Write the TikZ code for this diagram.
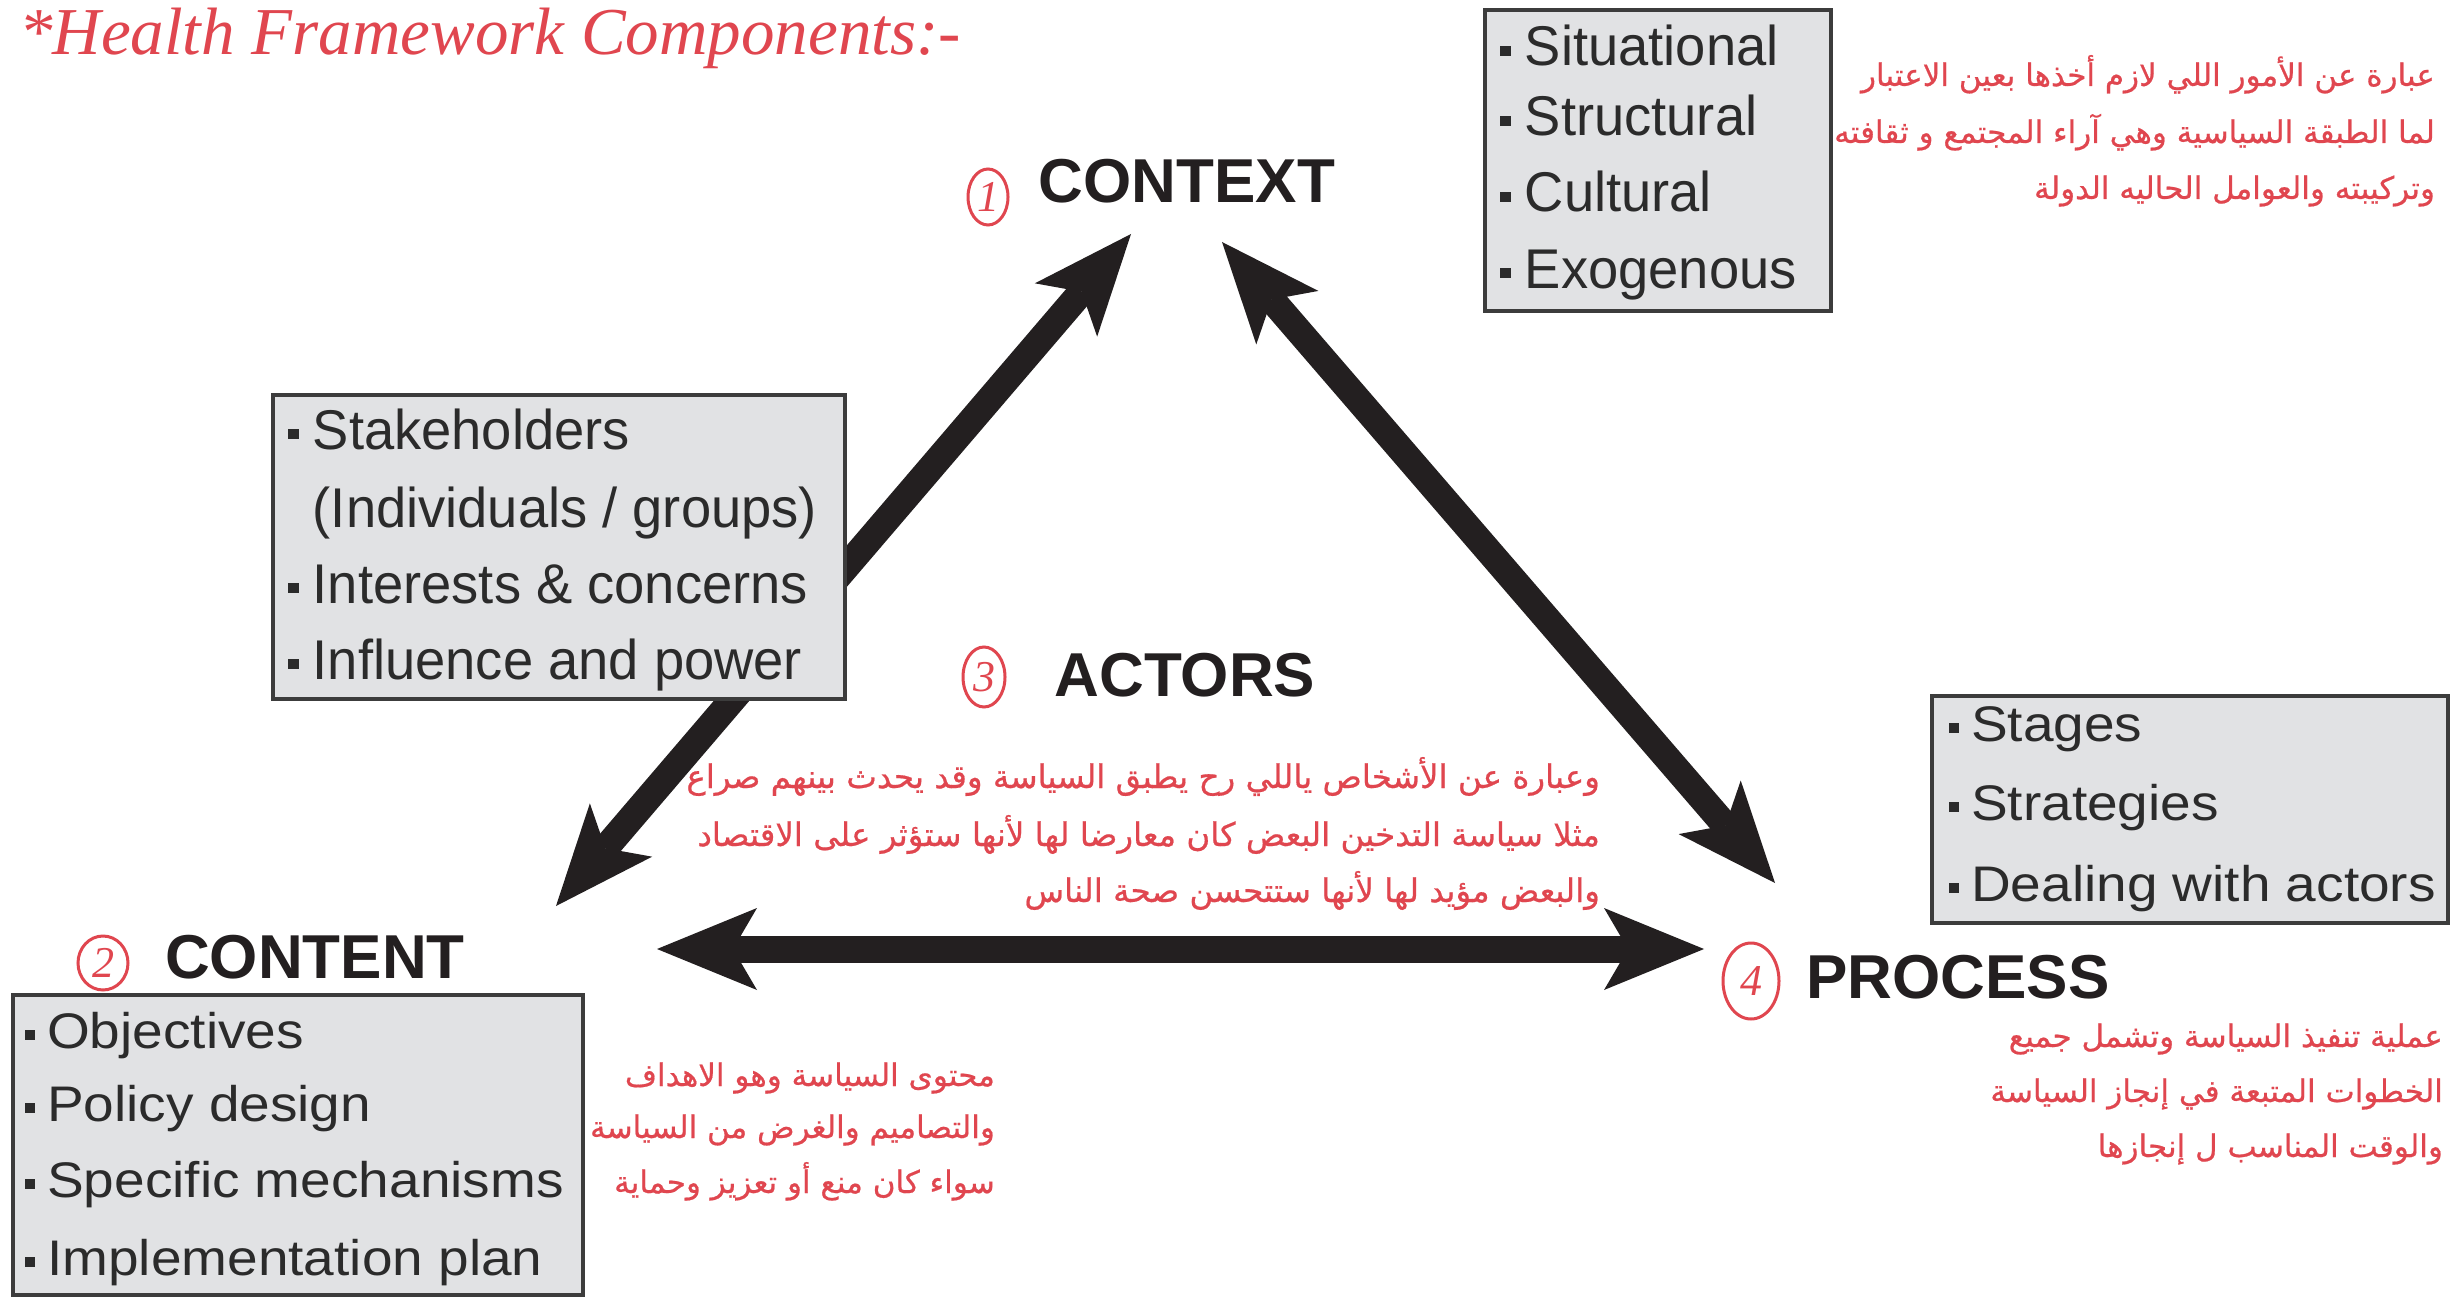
\documentclass[tikz,border=0pt]{standalone}
\usepackage{fontspec}
\setmainfont{Liberation Sans}
\newfontfamily\condfont[FakeStretch=0.97]{Liberation Sans}
\newfontfamily\wideitem[FakeStretch=1.1]{Liberation Sans}
\newfontfamily\labfont{Liberation Sans}
\newfontfamily\arabicfont[Script=Arabic,FakeBold=0.6]{DejaVu Sans}
\newfontfamily\handfont{Liberation Serif}
\TeXXeTstate=1
\usetikzlibrary{arrows.meta,shapes.geometric}
\definecolor{ink}{HTML}{231F20}
\definecolor{boxfill}{HTML}{E1E2E4}
\definecolor{boxline}{HTML}{3C3C3C}
\definecolor{itemtext}{HTML}{2B2B2B}
\definecolor{note}{HTML}{E0464F}
\newcommand{\sqb}{\rule[0.17em]{0.19em}{0.19em}\hspace{0.25em}}
\tikzset{
  bighead/.tip={Stealth[length=100pt,width=82pt,inset=24pt,line width=0pt]},
  bigarrow/.style={draw=ink, line width=27pt, arrows={bighead-bighead}},
  infobox/.style={draw=boxline, line width=4pt, fill=boxfill, inner sep=0pt, anchor=north west},
  itemA/.style={anchor=base west, inner sep=0pt, text=itemtext, font=\condfont\fontsize{56}{60}\selectfont},
  itemB/.style={anchor=base west, inner sep=0pt, text=itemtext, font=\wideitem\fontsize{50}{56}\selectfont},
  stagelabel/.style={inner sep=0pt, text=ink, font=\labfont\bfseries\fontsize{62}{66}\selectfont},
  arnote/.style={anchor=base east, inner sep=0pt, text=note, font=\arabicfont\fontsize{31}{36}\selectfont},
  arnotebig/.style={arnote, font=\arabicfont\fontsize{32.5}{36}\selectfont},
  numring/.style={ellipse, draw=note, line width=3pt, inner sep=0pt, text=note, font=\handfont\itshape\fontsize{44}{46}\selectfont},
  handtitle/.style={anchor=west, inner sep=0pt, text=note, font=\handfont\itshape\fontsize{67}{72}\selectfont}
}
\begin{document}
\begin{tikzpicture}[x=1pt,y=-1pt]
\useasboundingbox (0,0) rectangle (2464,1297);
\fill[white] (0,0) rectangle (2464,1297);

% arrow end points
\coordinate (tipContentA) at (556,906);
\coordinate (tipContextA) at (1131,234);
\coordinate (tipContextB) at (1222,242);
\coordinate (tipProcessB) at (1775,883);
\coordinate (tipContentC) at (657,949);
\coordinate (tipProcessC) at (1704,949);

\draw[bigarrow] (tipContentA) -- (tipContextA);
\draw[bigarrow] (tipContextB) -- (tipProcessB);
\draw[bigarrow] (tipContentC) -- (tipProcessC);

% title
\node[handtitle] (title) at (19,38) {*Health Framework Components:-};

% boxes
\node[infobox, minimum width=346pt, minimum height=301pt] (contextbox) at (1483,8) {};
\node[infobox, minimum width=572pt, minimum height=304pt] (actorsbox) at (271,393) {};
\node[infobox, minimum width=516pt, minimum height=227pt] (processbox) at (1930,694) {};
\node[infobox, minimum width=570pt, minimum height=300pt] (contentbox) at (11,993) {};

% context items
\node[itemA] (cx1) at (1500,66) {\sqb Situational};
\node[itemA] (cx2) at (1500,136) {\sqb Structural};
\node[itemA] (cx3) at (1500,212) {\sqb Cultural};
\node[itemA] (cx4) at (1500,288) {\sqb Exogenous};

% actors items
\node[itemA] (ac1) at (288,449) {\sqb Stakeholders};
\node[itemA] (ac2) at (288,527) {\hphantom{\sqb}(Individuals / groups)};
\node[itemA] (ac3) at (288,603) {\sqb Interests \& concerns};
\node[itemA] (ac4) at (288,679) {\sqb Influence and power};

% process items
\node[itemB] (pr1) at (1949,741) {\sqb Stages};
\node[itemB] (pr2) at (1949,820) {\sqb Strategies};
\node[itemB] (pr3) at (1949,901) {\sqb Dealing with actors};

% content items
\node[itemB] (co1) at (25,1048) {\sqb Objectives};
\node[itemB] (co2) at (25,1121) {\sqb Policy design};
\node[itemB] (co3) at (25,1197) {\sqb Specific mechanisms};
\node[itemB] (co4) at (25,1275) {\sqb Implementation plan};

% stage labels
\node[stagelabel] (context) at (1187,181) {CONTEXT};
\node[stagelabel] (actors) at (1185,675) {ACTORS};
\node[stagelabel] (content) at (315,957) {CONTENT};
\node[stagelabel] (process) at (1958,977) {PROCESS};

% numbered rings
\node[numring, minimum width=40pt, minimum height=56pt] (n1) at (988,197) {1};
\node[numring, minimum width=50pt, minimum height=54pt] (n2) at (103,963) {2};
\node[numring, minimum width=42pt, minimum height=60pt] (n3) at (984,677) {3};
\node[numring, minimum width=56pt, minimum height=76pt] (n4) at (1751,981) {4};

% Arabic notes: context
\node[arnote] (ctxA) at (2435,86) {\beginR عبارة عن الأمور اللي لازم أخذها بعين الاعتبار\endR};
\node[arnote] (ctxB) at (2435,143) {\beginR لما الطبقة السياسية وهي آراء المجتمع و ثقافته\endR};
\node[arnote] (ctxC) at (2435,199) {\beginR وتركيبته والعوامل الحاليه الدولة\endR};

% Arabic notes: actors
\node[arnotebig] (actA) at (1600,788) {\beginR وعبارة عن الأشخاص ياللي رح يطبق السياسة وقد يحدث بينهم صراع\endR};
\node[arnotebig] (actB) at (1600,846) {\beginR مثلا سياسة التدخين البعض كان معارضا لها لأنها ستؤثر على الاقتصاد\endR};
\node[arnotebig] (actC) at (1600,902) {\beginR والبعض مؤيد لها لأنها ستتحسن صحة الناس\endR};

% Arabic notes: content
\node[arnote] (conA) at (995,1086) {\beginR محتوى السياسة وهو الاهداف\endR};
\node[arnote] (conB) at (995,1138) {\beginR والتصاميم والغرض من السياسة\endR};
\node[arnote] (conC) at (995,1193) {\beginR سواء كان منع أو تعزيز وحماية\endR};

% Arabic notes: process
\node[arnote] (proA) at (2443,1047) {\beginR عملية تنفيذ السياسة وتشمل جميع\endR};
\node[arnote] (proB) at (2443,1102) {\beginR الخطوات المتبعة في إنجاز السياسة\endR};
\node[arnote] (proC) at (2443,1157) {\beginR والوقت المناسب ل إنجازها\endR};
\end{tikzpicture}
\end{document}
